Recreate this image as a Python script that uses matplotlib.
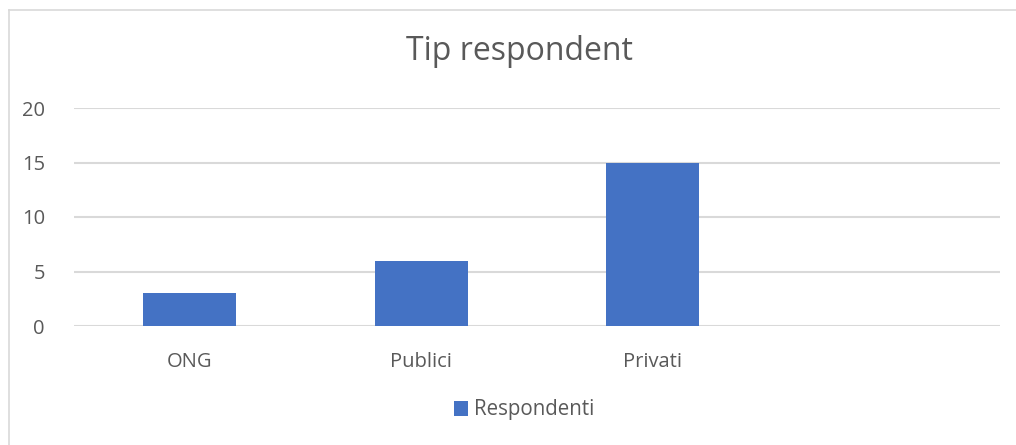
import matplotlib.pyplot as plt
from matplotlib.lines import Line2D

# date grafic
categorii = ["ONG", "Publici", "Privati", ""]
respondenti = [3, 6, 15, 0]
titlu = "Tip respondent"
serie = "Respondenti"

plt.rcParams['font.family'] = ['Open Sans', 'DejaVu Sans']

W, H = 1016, 445
fig = plt.figure(figsize=(W / 100, H / 100), dpi=100)
ax = fig.add_axes([74 / W, 1 - 326 / H, (1000 - 74) / W, (326 - 108) / H])

x = range(len(categorii))
ax.bar(x, respondenti, width=0.4, color="#4472C4", label=serie, zorder=3)
ax.set_xlim(-0.5, len(categorii) - 0.5)
ax.set_ylim(0, 20)
ax.set_yticks([0, 5, 10, 15, 20])
ax.set_xticks(list(x))
ax.set_xticklabels(categorii)

ax.grid(axis='y', color="#D9D9D9", linewidth=1.5, zorder=0)
for s in ax.spines.values():
    s.set_visible(False)
ax.tick_params(axis='both', length=0, labelsize=14.5, labelcolor="#595959")
ax.tick_params(axis='y', pad=21)
ax.tick_params(axis='x', pad=19)

fig.text(519 / W, 1 - 52 / H, titlu, ha='center', va='center', fontsize=23, color="#595959")

leg = fig.legend(loc='center', bbox_to_anchor=(524 / W, 1 - 410 / H), frameon=False,
                 fontsize=14.8, handlelength=0.7, handleheight=0.7, handletextpad=0.3)
for t in leg.get_texts():
    t.set_color("#595959")

# chenar zona grafic
fig.add_artist(Line2D([9 / W, 9 / W], [0, 1 - 10 / H], color="#D9D9D9", linewidth=1.2))
fig.add_artist(Line2D([9 / W, 1], [1 - 10 / H, 1 - 10 / H], color="#D9D9D9", linewidth=1.2))

plt.savefig("out.png", dpi=100)
